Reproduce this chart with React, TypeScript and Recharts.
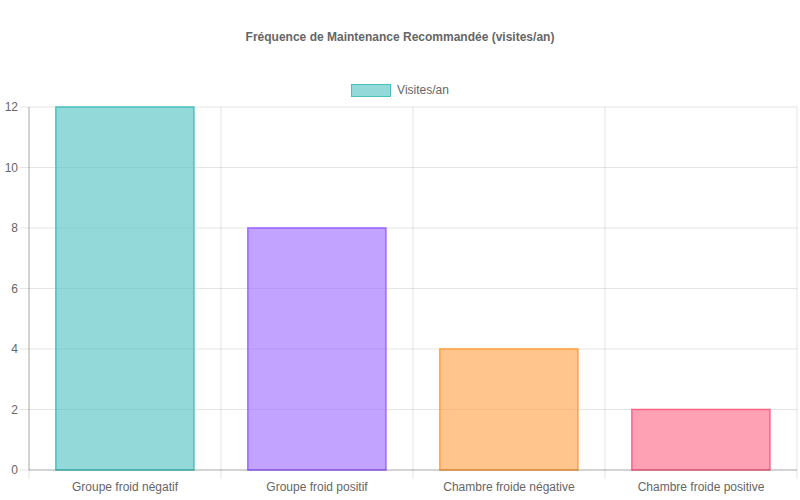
import React from 'react';
import { BarChart, Bar, XAxis, YAxis, CartesianGrid, Legend, Cell } from 'recharts';

const categories = ['Groupe froid négatif', 'Groupe froid positif', 'Chambre froide négative', 'Chambre froide positive'];
const visites = [12, 8, 4, 2];
const yTicks = [0, 2, 4, 6, 8, 10, 12];
const boundaryTicks = [0, 1, 2, 3, 4];

const fills = ['rgba(75,192,192,0.6)', 'rgba(153,102,255,0.6)', 'rgba(255,159,64,0.6)', 'rgba(255,99,132,0.6)'];
const borders = ['rgb(75,192,192)', 'rgb(153,102,255)', 'rgb(255,159,64)', 'rgb(255,99,132)'];

const data = categories.map((name, i) => ({ name, value: visites[i] }));

const font = '"Liberation Sans", Arial, Helvetica, sans-serif';
const gridColor = 'rgba(0,0,0,0.1)';
const axisColor = 'rgba(0,0,0,0.25)';
const TICK_SIZE = 9;
const TICK_MARGIN = 3;

const LegendBox = () => (
    <div style={{ display: 'flex', justifyContent: 'center', alignItems: 'center', fontFamily: font, fontSize: 12, color: '#666' }}>
        <span style={{ display: 'inline-block', width: 38, height: 11, background: fills[0], border: `1px solid ${borders[0]}`, marginRight: 6 }} />
        <span>Visites/an</span>
    </div>
);

// vertical grid lines sit on the category boundaries, not the centres
const boundaryLines = ({ offset }: any) =>
    boundaryTicks.map((t) => offset.left + (t * offset.width) / categories.length);

// category label plus the little tick marks under the boundaries (chart.js style)
const CategoryTick = (props: any) => {
    const { x, y, payload, index, width } = props;
    const band = width / categories.length;
    const axisY = y - TICK_SIZE - TICK_MARGIN;
    const left = x - band / 2;
    const right = x + band / 2;
    return (
        <g>
            <line x1={left} x2={left} y1={axisY} y2={axisY + TICK_SIZE} stroke={gridColor} />
            {index === categories.length - 1 && (
                <line x1={right} x2={right} y1={axisY} y2={axisY + TICK_SIZE} stroke={gridColor} />
            )}
            <text x={x} y={y} dy="0.71em" textAnchor="middle" fill="#666" fontSize={12} fontFamily={font}>
                {payload.value}
            </text>
        </g>
    );
};

export default function App() {
    return (
        <div style={{ position: 'absolute', left: 0, top: 0, width: 800, height: 500, background: '#fff' }}>
            <div style={{ position: 'absolute', top: 30, width: 800, textAlign: 'center', fontFamily: font, fontSize: 12, fontWeight: 'bold', color: '#666' }}>
                Fréquence de Maintenance Recommandée (visites/an)
            </div>
            <BarChart width={800} height={500} data={data} margin={{ top: 107, right: 3, bottom: 0, left: 0 }} barCategoryGap="14%">
                <CartesianGrid stroke={gridColor} verticalCoordinatesGenerator={boundaryLines} />
                <XAxis dataKey="name" height={30} tickLine={false} tickSize={TICK_SIZE} tickMargin={TICK_MARGIN} axisLine={{ stroke: axisColor }} tick={<CategoryTick />} interval={0} />
                <YAxis domain={[0, 12]} ticks={yTicks} width={29} tickSize={9} tickMargin={2} axisLine={{ stroke: axisColor }} tickLine={{ stroke: gridColor }} tick={{ fill: '#666', fontSize: 12, fontFamily: font }} />
                <Legend layout="horizontal" verticalAlign="middle" align="center" wrapperStyle={{ top: 83, left: 0, width: 800 }} content={() => <LegendBox />} />
                <Bar dataKey="value" name="Visites/an" isAnimationActive={false} strokeWidth={1.5}>
                    {data.map((d, i) => (
                        <Cell key={d.name} fill={fills[i]} stroke={borders[i]} />
                    ))}
                </Bar>
            </BarChart>
        </div>
    );
}
